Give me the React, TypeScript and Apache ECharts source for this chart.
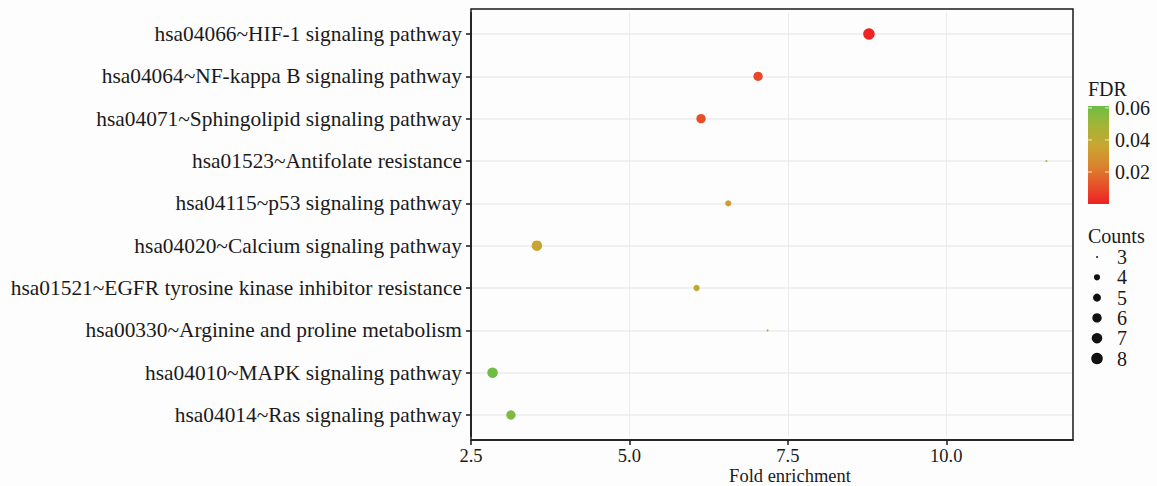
import React, { useEffect, useRef } from "react";
import * as echarts from "echarts";

const pathways = [
  "hsa04066~HIF-1 signaling pathway",
  "hsa04064~NF-kappa B signaling pathway",
  "hsa04071~Sphingolipid signaling pathway",
  "hsa01523~Antifolate resistance",
  "hsa04115~p53 signaling pathway",
  "hsa04020~Calcium signaling pathway",
  "hsa01521~EGFR tyrosine kinase inhibitor resistance",
  "hsa00330~Arginine and proline metabolism",
  "hsa04010~MAPK signaling pathway",
  "hsa04014~Ras signaling pathway",
];
const foldEnrichment = [8.78, 7.03, 6.13, 11.58, 6.56, 3.54, 6.06, 7.18, 2.84, 3.13];
const counts = [8, 6, 6, 3, 4, 7, 4, 3, 7, 6];
const fdr = [0.001, 0.009, 0.011, 0.042, 0.034, 0.036, 0.04, 0.055, 0.061, 0.058];
const xTicks = [2.5, 5, 7.5, 10];
const fdrTicks = [0.02, 0.04, 0.06];
const countLevels = [3, 4, 5, 6, 7, 8];
const xTitle = "Fold enrichment";

const FDR_MIN = 0;
const FDR_MAX = 0.0612;
const COLORS = ["#ee2124", "#e6542a", "#d9862e", "#c8a631", "#a3b436", "#6ebd44"];
const FONT = "Liberation Serif";
const TXT = "#1a1a1a";

const sizeOf = (c: number) => 1.92 * (1 + 5 * Math.sqrt((c - 3) / 5));

export default function App() {
  const ref = useRef<HTMLDivElement>(null);
  useEffect(() => {
    const chart = echarts.init(ref.current!, null, { renderer: "svg", width: 1157, height: 486 });
    const data = pathways.map((p, i) => [foldEnrichment[i], p, counts[i], fdr[i]]);

    const cbX = 1088, cbY = 106, cbW = 21, cbH = 98;
    const fy = (v: number) => cbY + cbH * (1 - (v - FDR_MIN) / (FDR_MAX - FDR_MIN));

    const graphics: any[] = [
      {
        type: "rect",
        shape: { x: 471, y: 9, width: 602, height: 431 },
        style: { fill: "none", stroke: "#1a1a1a", lineWidth: 1.5 },
        z: 10,
      },
      {
        type: "text",
        x: 790, y: 476,
        style: {
          text: xTitle, font: `18.5px '${FONT}'`, fill: TXT,
          textAlign: "center", textVerticalAlign: "middle",
        },
      },
      {
        type: "text",
        x: 1088, y: 89,
        style: { text: "FDR", font: `20px '${FONT}'`, fill: TXT, textVerticalAlign: "middle" },
      },
      {
        type: "rect",
        shape: { x: cbX, y: cbY, width: cbW, height: cbH },
        style: {
          fill: new echarts.graphic.LinearGradient(
            0, 0, 0, 1,
            COLORS.slice().reverse().map((c, i) => ({ offset: i / (COLORS.length - 1), color: c }))
          ),
        },
      },
      {
        type: "text",
        x: 1088, y: 236,
        style: { text: "Counts", font: `20px '${FONT}'`, fill: TXT, textVerticalAlign: "middle" },
      },
    ];
    fdrTicks.forEach((t) => {
      const y = fy(t);
      graphics.push({
        type: "line",
        shape: { x1: cbX, y1: y, x2: cbX + 4, y2: y },
        style: { stroke: "#ffffff", lineWidth: 1, opacity: 0.8 },
      });
      graphics.push({
        type: "line",
        shape: { x1: cbX + cbW - 4, y1: y, x2: cbX + cbW, y2: y },
        style: { stroke: "#ffffff", lineWidth: 1, opacity: 0.8 },
      });
      graphics.push({
        type: "text",
        x: 1115, y,
        style: { text: t.toFixed(2), font: `20px '${FONT}'`, fill: TXT, textVerticalAlign: "middle" },
      });
    });
    countLevels.forEach((c, i) => {
      const y = 257 + i * 20.3;
      graphics.push({
        type: "circle",
        shape: { cx: 1097, cy: y, r: sizeOf(c) / 2 },
        style: { fill: "#111111" },
      });
      graphics.push({
        type: "text",
        x: 1117, y,
        style: { text: String(c), font: `20px '${FONT}'`, fill: TXT, textVerticalAlign: "middle" },
      });
    });

    chart.setOption({
      animation: false,
      backgroundColor: "#fdfdfd",
      textStyle: { fontFamily: FONT },
      grid: {
        left: 471, width: 602, top: 12.8, height: 423.4,
        containLabel: false, outerBoundsMode: "none",
      },
      xAxis: {
        type: "value",
        min: 2.5,
        max: 12,
        interval: 2.5,
        offset: 3.8,
        axisLine: { show: true, lineStyle: { color: "#1a1a1a", width: 1.5 } },
        axisTick: { show: true, length: 5, customValues: xTicks, lineStyle: { color: "#1a1a1a", width: 1.5 } },
        axisLabel: {
          customValues: xTicks,
          formatter: (v: number) => v.toFixed(1),
          fontFamily: FONT,
          fontSize: 18.5,
          color: TXT,
          margin: 6,
        },
        splitLine: { show: true, lineStyle: { color: "#ebebeb", width: 1 } },
      },
      yAxis: {
        type: "category",
        data: pathways,
        inverse: true,
        boundaryGap: true,
        axisLine: { show: true, lineStyle: { color: "#1a1a1a", width: 1.5 } },
        axisTick: { show: true, length: 5, alignWithLabel: true, lineStyle: { color: "#1a1a1a", width: 1.5 } },
        axisLabel: { fontFamily: FONT, fontSize: 21.4, color: TXT, margin: 9 },
        splitLine: { show: true, alignWithLabel: true, lineStyle: { color: "#ebebeb", width: 1.5 } },
      },
      visualMap: {
        show: false,
        type: "continuous",
        dimension: 3,
        seriesIndex: 0,
        min: FDR_MIN,
        max: FDR_MAX,
        inRange: { color: COLORS },
      },
      series: [
        {
          type: "scatter",
          data,
          symbol: "circle",
          symbolSize: (v: any) => sizeOf(v[2]),
          itemStyle: { opacity: 1 },
          z: 5,
        },
      ],
      graphic: graphics,
    });
    return () => chart.dispose();
  }, []);
  return (
    <div
      ref={ref}
      style={{ position: "fixed", left: 0, top: 0, width: 1157, height: 486 }}
    />
  );
}
